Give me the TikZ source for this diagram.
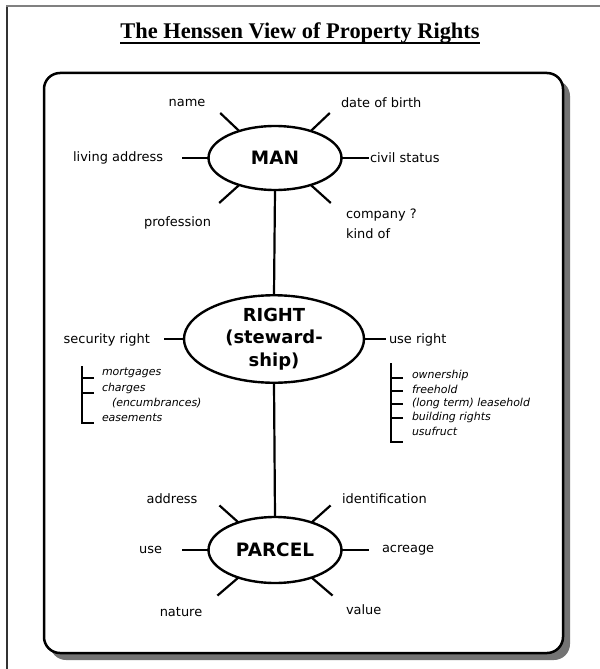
\documentclass[tikz,border=0pt]{standalone}
\usepackage{fontspec}
\setmainfont{Liberation Serif}
\newfontfamily\lblfont{DejaVu Sans}
\usetikzlibrary{shapes.geometric}

\tikzset{
  entity/.style={draw, ellipse, line width=2.4bp, inner sep=0pt, outer sep=0pt,
    minimum width=133bp, minimum height=64bp,
    font=\lblfont\bfseries\fontsize{18.5}{22}\selectfont},
  attr/.style={inner sep=0pt, outer sep=0pt, font=\lblfont\fontsize{13}{15}\selectfont},
  item/.style={inner sep=0pt, outer sep=0pt, anchor=west,
    font=\lblfont\itshape\fontsize{11}{13}\selectfont},
  spoke/.style={line width=2.2bp},
  link/.style={line width=2.2bp},
  bracket/.style={line width=1.3bp},
}

\begin{document}
\begin{tikzpicture}[x=1bp,y=-1bp]
\useasboundingbox (0,0) rectangle (600,669);

% page frame (only left and top edges are visible)
\draw[line width=2bp, black!80] (7,669) -- (7,6);
\draw[line width=2bp, black!50] (6,6.5) -- (600,6.5);

% title
\node[inner sep=0pt, font=\bfseries\fontsize{22.5}{26}\selectfont] (title) at (300,33)
  {The Henssen View of Property Rights};
\draw[line width=2bp] ([yshift=-5bp]title.base west) -- ([yshift=-5bp]title.base east);

% rounded panel with its drop shadow
\fill[black!55, rounded corners=16bp] (50,80) rectangle (570,660);
\draw[line width=2.5bp, fill=white, rounded corners=16bp] (44,73) rectangle (563,653);

% the three entities
\node[entity] (man) at (275,158) {MAN};
\node[entity, minimum width=180bp, minimum height=84bp, align=center,
      font=\lblfont\bfseries\fontsize{18}{22.5}\selectfont] (right) at (274,339)
  {RIGHT\\(steward-\\ship)};
\node[entity, minimum height=66bp] (parcel) at (275,550) {PARCEL};

\draw[link] (man.south) -- (right.north);
\draw[link] (right.south) -- (parcel.north);

% ---- MAN attributes
\coordinate (man-ul) at ([shift={(-19,-18)}]man.143);
\coordinate (man-ur) at ([shift={(19,-18)}]man.37);
\coordinate (man-l)  at ([shift={(-27,0)}]man.180);
\coordinate (man-r)  at ([shift={(27,0)}]man.0);
\coordinate (man-ll) at ([shift={(-20,18)}]man.217);
\coordinate (man-lr) at ([shift={(20,18)}]man.323);
\draw[spoke] (man.143) -- (man-ul);
\draw[spoke] (man.37)  -- (man-ur);
\draw[spoke] (man.180) -- (man-l);
\draw[spoke] (man.0)   -- (man-r);
\draw[spoke] (man.217) -- (man-ll);
\draw[spoke] (man.323) -- (man-lr);

\node[attr] (name)    at (187,103) {name};
\node[attr, anchor=west] (birth) at (341,103) {date of birth};
\node[attr, anchor=east] (living) at (163,158) {living address};
\node[attr, anchor=west] (civil) at (370,158) {civil status};
\node[attr, anchor=east] (prof) at (211,223) {profession};
\node[attr, anchor=west, align=left, font=\lblfont\fontsize{13}{20}\selectfont]
  (company) at (346,224) {company ?\\kind of};

% ---- RIGHT branches
\coordinate (right-l) at ([shift={(-20,0)}]right.180);
\coordinate (right-r) at ([shift={(22,0)}]right.0);
\draw[spoke] (right.180) -- (right-l);
\draw[spoke] (right.0) -- (right-r);
\node[attr, anchor=east] (security) at (150,340) {security right};
\node[attr, anchor=west] (use-right) at (389,340) {use right};

% security right list
\coordinate (sb-top) at (82,366);
\coordinate (sb-bot) at (82,423);
\draw[bracket] (sb-top) -- (sb-bot) -- ++(12,0);
\draw[bracket] (82,378) -- ++(12,0);
\draw[bracket] (82,393) -- ++(12,0);
\node[item] (mortgages) at (102,373) {mortgages};
\node[item] (charges) at (102,388) {charges};
\node[item] (encumbrances) at (112,403) {(encumbrances)};
\node[item] (easements) at (102,418) {easements};

% use right list
\coordinate (ub-top) at (391,363);
\coordinate (ub-bot) at (391,442);
\draw[bracket] (ub-top) -- (ub-bot) -- ++(12,0);
\foreach \yy in {378,391,404,418} \draw[bracket] (391,\yy) -- ++(12,0);
\node[item] (ownership) at (412,375) {ownership};
\node[item] (freehold) at (412,389) {freehold};
\node[item] (leasehold) at (412,403) {(long term) leasehold};
\node[item] (building) at (412,417) {building rights};
\node[item] (usufruct) at (412,431) {usufruct};

% ---- PARCEL attributes
\coordinate (parcel-ul) at ([shift={(-19,-17)}]parcel.143);
\coordinate (parcel-ur) at ([shift={(19,-17)}]parcel.37);
\coordinate (parcel-l)  at ([shift={(-27,0)}]parcel.180);
\coordinate (parcel-r)  at ([shift={(27,0)}]parcel.0);
\coordinate (parcel-ll) at ([shift={(-21,18)}]parcel.217);
\coordinate (parcel-lr) at ([shift={(21,18)}]parcel.323);
\draw[spoke] (parcel.143) -- (parcel-ul);
\draw[spoke] (parcel.37)  -- (parcel-ur);
\draw[spoke] (parcel.180) -- (parcel-l);
\draw[spoke] (parcel.0)   -- (parcel-r);
\draw[spoke] (parcel.217) -- (parcel-ll);
\draw[spoke] (parcel.323) -- (parcel-lr);

\node[attr] (address) at (172,499) {address};
\node[attr, anchor=west] (ident) at (342,499) {identification};
\node[attr, anchor=east] (use) at (162,550) {use};
\node[attr, anchor=west] (acreage) at (382,550) {acreage};
\node[attr] (nature) at (181,612) {nature};
\node[attr, anchor=west] (value) at (346,610) {value};
\end{tikzpicture}
\end{document}
